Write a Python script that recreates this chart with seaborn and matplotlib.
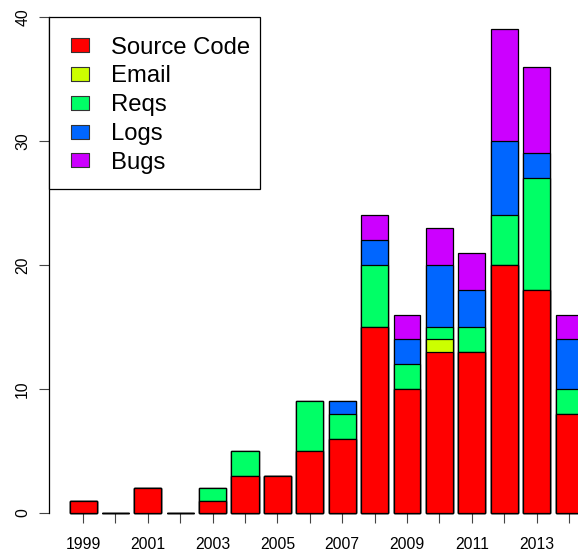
import matplotlib
matplotlib.use("Agg")
import matplotlib.pyplot as plt
import matplotlib.transforms as mtransforms
from matplotlib.lines import Line2D
from matplotlib.patches import Rectangle
import numpy as np
import pandas as pd
import seaborn as sns

years = [str(y) for y in range(1999, 2015)]
source_code = [1, 0, 2, 0, 1, 3, 3, 5, 6, 15, 10, 13, 13, 20, 18, 8]
email = [0, 0, 0, 0, 0, 0, 0, 0, 0, 0, 0, 1, 0, 0, 0, 0]
reqs = [0, 0, 0, 0, 1, 2, 0, 4, 2, 5, 2, 1, 2, 4, 9, 2]
logs = [0, 0, 0, 0, 0, 0, 0, 0, 1, 2, 2, 5, 3, 6, 2, 4]
bugs = [0, 0, 0, 0, 0, 0, 0, 0, 0, 2, 2, 3, 3, 9, 7, 2]

series_names = ["Source Code", "Email", "Reqs", "Logs", "Bugs"]
series_colors = ["#FF0000", "#CCFF00", "#00FF66", "#0066FF", "#CC00FF"]
y_ticks = [0, 10, 20, 30, 40]

sns.set_style("white", {"xtick.bottom": True, "ytick.left": True,
                        "text.color": "black", "xtick.color": "black",
                        "ytick.color": "black", "axes.labelcolor": "black"})
plt.rcParams["font.family"] = ["Liberation Sans", "DejaVu Sans"]

W, H = 578, 556
fig = plt.figure(figsize=(W / 100, H / 100), dpi=100)
# plot region: y axis at x=49px, y=0 at 513px, y=40 at 17px; right side runs off the figure
ax = fig.add_axes([49 / W, (H - 513) / H, (W - 49) / W, 496 / H])

df = pd.DataFrame({"year": years})
stack = np.zeros(len(years))
for name, vals in zip(series_names, [source_code, email, reqs, logs, bugs]):
    stack = stack + np.array(vals)
    df[name] = stack.copy()

# draw cumulative totals from the top layer down so each segment shows through
for name, col in reversed(list(zip(series_names, series_colors))):
    sns.barplot(data=df, x="year", y=name, color=col, saturation=1,
                width=1 / 1.2, edgecolor="black", linewidth=0.9,
                errorbar=None, ax=ax)

for p in ax.patches:
    p.set_clip_on(False)

bar_step = 32.4
x_left = -(83 - 49) / bar_step
x_right = (W - 83) / bar_step
ax.set_xlim(x_left, x_right)
ax.set_ylim(0, 40)

ax.set_xticks(range(len(years)))
ax.set_xticklabels([y if i % 2 == 0 else "" for i, y in enumerate(years)], fontsize=11.3)
ax.set_yticks(y_ticks)
ax.set_yticklabels([str(t) for t in y_ticks], fontsize=11.3, rotation=90, va="center")
ax.set_xlabel("")
ax.set_ylabel("")

for s in ["top", "right", "bottom"]:
    ax.spines[s].set_visible(False)
ax.spines["left"].set_color("black")
ax.spines["left"].set_linewidth(0.9)
ax.tick_params(axis="x", bottom=True, length=7.2, width=0.8, color="#444444", pad=10, direction="out")
ax.tick_params(axis="y", left=True, length=7, width=0.8, color="#444444", pad=6.5, direction="out")
for t in ax.get_xticklines() + ax.get_yticklines():
    t.set_clip_on(False)

# legend box
box_top = 40
box_bottom = (513 - 189) / 12.4
box_right = (260 - 49) / (W - 49)
ax.add_patch(Rectangle((0, box_bottom), box_right, box_top - box_bottom,
                       transform=mtransforms.blended_transform_factory(ax.transAxes, ax.transData),
                       facecolor="white", edgecolor="black", linewidth=0.9,
                       zorder=5, clip_on=False))

rect_marker = [(-0.5, -0.41), (0.5, -0.41), (0.5, 0.41), (-0.5, 0.41), (-0.5, -0.41)]
handles = [Line2D([], [], linestyle="none", marker=rect_marker, markersize=12.5,
                  markerfacecolor=c, markeredgecolor="#333333", markeredgewidth=0.8)
           for c in series_colors]
leg = ax.legend(handles, series_names, loc="upper left",
                bbox_to_anchor=(68 / W, 1 - 36.5 / H), bbox_transform=fig.transFigure,
                frameon=False, fontsize=17.2, borderpad=0, borderaxespad=0,
                handlelength=1.0, handletextpad=0.8, labelspacing=0.285)
leg.set_zorder(6)

fig.savefig("out.png", dpi=100)
